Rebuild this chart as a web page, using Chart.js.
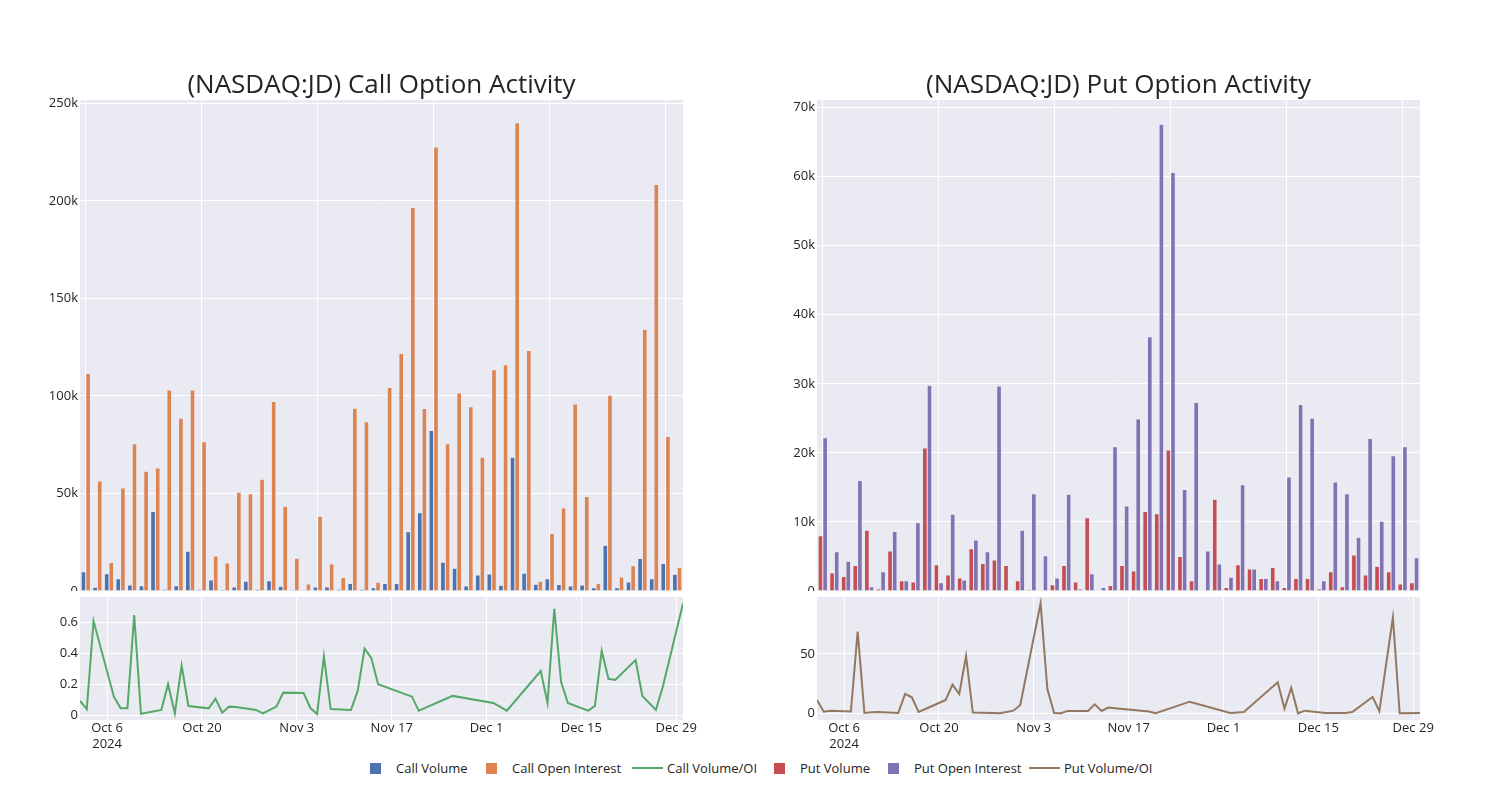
<!DOCTYPE html>
<html>
<head>
<meta charset="utf-8">
<script src="https://cdn.jsdelivr.net/npm/chart.js@4.4.0/dist/chart.umd.min.js"></script>
<style>
  body { margin: 0; background: #fff; width: 1500px; height: 800px; position: relative; overflow: hidden; font-family: "Open Sans", sans-serif; }
  .box { position: absolute; }
  #legend { position: absolute; left: 0; top: 760px; width: 1500px; height: 16px; font-size: 13px; color: rgb(36,36,36); }
  .item { position: absolute; top: 0; height: 16px; display: flex; align-items: center; white-space: nowrap; }
  .sq { width: 11px; height: 11px; }
  .ln { width: 31px; height: 2px; }
</style>
</head>
<body>
<div class="box" style="left:0;top:50px"><canvas id="callBars" width="700" height="541"></canvas></div>
<div class="box" style="left:737px;top:50px"><canvas id="putBars" width="700" height="541"></canvas></div>
<div class="box" style="left:0;top:597px"><canvas id="callRatio" width="700" height="160"></canvas></div>
<div class="box" style="left:737px;top:597px"><canvas id="putRatio" width="700" height="160"></canvas></div>
<div id="legend"></div>
<script>
// trading days shown (bars use them as categories, lines as dates)
const dates = ['2024-10-02','2024-10-03','2024-10-04','2024-10-07','2024-10-08','2024-10-09','2024-10-10','2024-10-11',
  '2024-10-14','2024-10-15','2024-10-16','2024-10-17','2024-10-18','2024-10-21','2024-10-22','2024-10-23','2024-10-24',
  '2024-10-25','2024-10-28','2024-10-29','2024-10-31','2024-11-01','2024-11-04','2024-11-05','2024-11-06','2024-11-07',
  '2024-11-08','2024-11-11','2024-11-12','2024-11-13','2024-11-14','2024-11-15','2024-11-20','2024-11-21','2024-11-26',
  '2024-12-02','2024-12-04','2024-12-09','2024-12-10','2024-12-11','2024-12-12','2024-12-13','2024-12-16','2024-12-17',
  '2024-12-18','2024-12-19','2024-12-20','2024-12-23','2024-12-24','2024-12-26','2024-12-27','2024-12-30'];

const callVolume = [9900,1900,8900,6300,3100,2700,40800,900,2700,20400,900,5700,700,2100,5000,900,5300,2400,500,50,
  2100,2100,900,3900,900,1700,3800,3800,30400,40100,82300,14800,11700,2600,8200,8700,2900,68600,9100,3400,6300,3300,
  2600,3100,1700,23500,1700,4600,16600,6300,14100,8600];
const callOpenInterest = [111500,56400,14600,52800,75500,61400,63100,103100,88500,103100,76500,18000,14400,50600,49900,
  57300,97100,43400,16800,3600,38300,13900,6900,93700,86800,4500,104300,121800,196600,93500,227600,75500,101500,94500,
  68600,113400,116000,240000,123300,5000,29500,42500,95900,48500,3900,100300,7200,13000,134100,208400,79200,12000];
const callRatio = [0.093,0.04,0.606,0.12,0.045,0.045,0.645,0.01,0.035,0.2,0.013,0.32,0.06,0.045,0.107,0.017,0.056,0.054,
  0.035,0.013,0.056,0.146,0.144,0.047,0.009,0.38,0.04,0.035,0.16,0.43,0.368,0.2,0.12,0.03,0.125,0.08,0.03,0.285,0.08,
  0.685,0.215,0.08,0.03,0.06,0.415,0.235,0.227,0.355,0.125,0.035,0.18,0.72];

const putVolume = [8000,2600,2100,3700,8800,300,5800,1500,1300,20700,3800,2300,1900,6100,4000,4500,3700,1500,200,100,
  900,3700,1300,10600,50,800,3700,2900,11500,11200,20400,5000,1500,50,13300,500,3800,3200,1800,3400,500,1800,1800,300,
  2800,600,5200,2300,3600,2800,1000,1200];
const putOpenInterest = [22200,5700,4300,16000,600,2800,8600,1500,9900,29800,1200,11100,1600,7400,5700,29700,100,8800,
  14100,5100,1900,14000,300,2500,500,20900,12300,24900,36800,67600,60600,14700,27300,5800,3900,2000,15400,3200,1800,
  1500,16500,27000,25000,1500,15800,14100,7800,22100,10100,19600,20900,4800];
const putRatio = [11.2,1.4,2.2,1.5,68.8,0.3,0.8,1.0,0.3,16.3,13.5,1.1,3.6,11.2,24.2,16.3,48.3,0.6,0.2,0,2.2,7,92.7,20.5,
  0.3,0,2,2,7.6,2,4.8,4.2,1.5,0,9.8,0.3,1.1,26.1,3.9,21.6,0,2.2,0.2,0.2,0.2,0.2,1.1,13.8,1.7,80.9,0,0.2];

const tickDates = ['2024-10-06','2024-10-20','2024-11-03','2024-11-17','2024-12-01','2024-12-15','2024-12-29'];
const tickLabels = [['Oct 6','2024'],'Oct 20','Nov 3','Nov 17','Dec 1','Dec 15','Dec 29'];
const callBarTicks = [0,50000,100000,150000,200000,250000];
const putBarTicks = [0,10000,20000,30000,40000,50000,60000,70000];
const callRatioTicks = [0,0.2,0.4,0.6];
const putRatioTicks = [0,50];

const textColor = 'rgb(36,36,36)';
const fontFamily = '"Open Sans", sans-serif';
const dayNum = s => Date.UTC(+s.slice(0,4), +s.slice(5,7) - 1, +s.slice(8,10)) / 86400000;
const tickDays = tickDates.map(dayNum);
const kFormat = v => v === 0 ? '0' : (v / 1000) + 'k';

const plotBg = {
  id: 'plotBg',
  beforeDraw(chart) {
    const { ctx, chartArea: a } = chart;
    ctx.save();
    ctx.fillStyle = '#EAEAF2';
    ctx.fillRect(a.left, a.top, a.width, a.height);
    ctx.restore();
  }
};

function yAxis(min, max, tickVals, fmt) {
  return {
    min, max,
    border: { display: false },
    grid: { color: '#fff', lineWidth: 1, drawTicks: false },
    ticks: { color: textColor, font: { family: fontFamily, size: 13 }, padding: 2, callback: fmt },
    afterBuildTicks: ax => { ax.ticks = tickVals.map(v => ({ value: v })); },
    afterFit: ax => { ax.width = 80; ax.paddingTop = 0; ax.paddingBottom = 0; }
  };
}

function barChart(id, title, volLabel, volData, volColor, oiLabel, oiData, oiColor, ymax, tickVals) {
  new Chart(document.getElementById(id), {
    type: 'bar',
    data: {
      labels: dates,
      datasets: [
        { label: volLabel, data: volData, backgroundColor: volColor, borderColor: '#EAEAF2', borderWidth: 0.5 },
        { label: oiLabel, data: oiData, backgroundColor: oiColor, borderColor: '#EAEAF2', borderWidth: 0.5 }
      ]
    },
    options: {
      responsive: false,
      animation: false,
      categoryPercentage: 0.8,
      barPercentage: 1.0,
      layout: { padding: { left: 0, right: 17, top: 0, bottom: 0 } },
      plugins: {
        legend: { display: false },
        tooltip: { enabled: false },
        title: {
          display: true, text: title, fullSize: false, color: textColor,
          font: { family: fontFamily, size: 26, weight: 'normal', lineHeight: 1.1 },
          padding: { top: 21, bottom: 0.4 }
        }
      },
      scales: {
        x: {
          type: 'category',
          offset: true,
          border: { display: false },
          grid: { offset: false, drawTicks: false, lineWidth: 1,
                  color: c => c.index % 10 === 0 ? '#fff' : 'rgba(0,0,0,0)' },
          ticks: { display: false, autoSkip: false },
          afterFit: ax => { ax.height = 0; ax.paddingLeft = 0; ax.paddingRight = 0; }
        },
        y: yAxis(0, ymax, tickVals, kFormat)
      }
    },
    plugins: [plotBg]
  });
}

function ratioChart(id, label, values, color, ymin, ymax, tickVals) {
  new Chart(document.getElementById(id), {
    type: 'line',
    data: {
      datasets: [{
        label: label,
        data: dates.map((d, i) => ({ x: dayNum(d), y: values[i] })),
        borderColor: color, borderWidth: 2, pointRadius: 0, tension: 0, fill: false
      }]
    },
    options: {
      responsive: false,
      animation: false,
      layout: { padding: { left: 0, right: 17, top: 0, bottom: 0 } },
      plugins: { legend: { display: false }, tooltip: { enabled: false } },
      scales: {
        x: {
          type: 'linear',
          min: dayNum(dates[0]), max: dayNum(dates[dates.length - 1]),
          border: { display: false },
          grid: { color: '#fff', lineWidth: 1, drawTicks: false },
          ticks: {
            color: textColor, font: { family: fontFamily, size: 13, lineHeight: 1.2 }, padding: 0.5,
            maxRotation: 0, autoSkip: false,
            callback: v => tickLabels[tickDays.indexOf(v)]
          },
          afterBuildTicks: ax => { ax.ticks = tickDays.map(v => ({ value: v })); },
          afterFit: ax => { ax.height = 37; ax.paddingLeft = 0; ax.paddingRight = 0; }
        },
        y: yAxis(ymin, ymax, tickVals, v => String(v))
      }
    },
    plugins: [plotBg]
  });
}

barChart('callBars', '(NASDAQ:JD) Call Option Activity', 'Call Volume', callVolume, '#4C72B0',
  'Call Open Interest', callOpenInterest, '#DD8452', 251700, callBarTicks);
barChart('putBars', '(NASDAQ:JD) Put Option Activity', 'Put Volume', putVolume, '#C44E52',
  'Put Open Interest', putOpenInterest, '#8172B3', 71100, putBarTicks);
ratioChart('callRatio', 'Call Volume/OI', callRatio, '#55A868', -0.03, 0.761, callRatioTicks);
ratioChart('putRatio', 'Put Volume/OI', putRatio, '#937860', -5.65, 98.06, putRatioTicks);

// shared legend under both panels
const legendItems = [
  { label: 'Call Volume', color: '#4C72B0', kind: 'sq' },
  { label: 'Call Open Interest', color: '#DD8452', kind: 'sq' },
  { label: 'Call Volume/OI', color: '#55A868', kind: 'ln' },
  { label: 'Put Volume', color: '#C44E52', kind: 'sq' },
  { label: 'Put Open Interest', color: '#8172B3', kind: 'sq' },
  { label: 'Put Volume/OI', color: '#937860', kind: 'ln' }
];
const legendX = [370, 486, 632, 774, 888, 1029];
const legend = document.getElementById('legend');
legendItems.forEach((it, i) => {
  const el = document.createElement('div');
  el.className = 'item';
  el.style.left = legendX[i] + 'px';
  const sym = document.createElement('span');
  sym.className = it.kind;
  sym.style.background = it.color;
  sym.style.marginRight = it.kind === 'sq' ? '15px' : '4px';
  const txt = document.createElement('span');
  txt.textContent = it.label;
  el.appendChild(sym);
  el.appendChild(txt);
  legend.appendChild(el);
});
</script>
</body>
</html>
